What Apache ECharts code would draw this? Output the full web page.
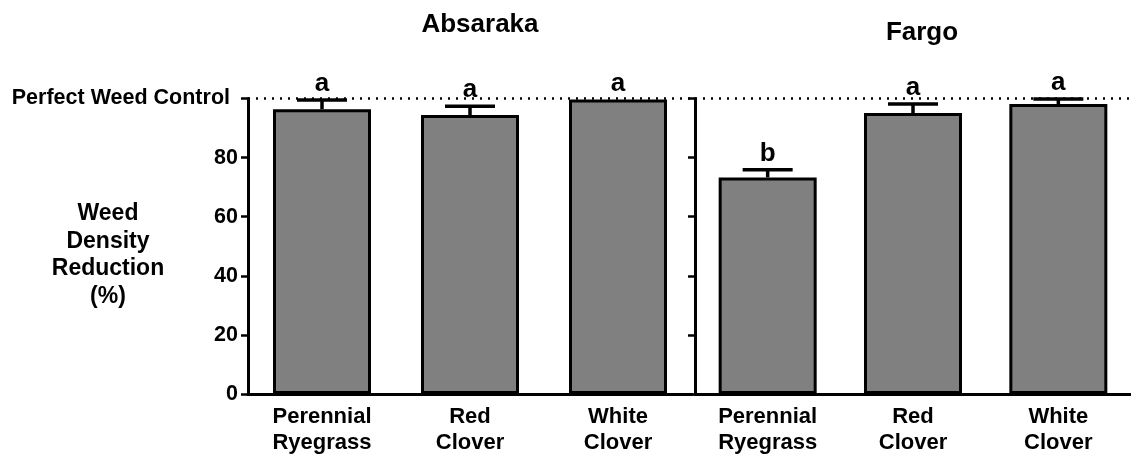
<!DOCTYPE html>
<html>
<head>
<meta charset="utf-8">
<script src="https://cdn.jsdelivr.net/npm/echarts@6/dist/echarts.min.js"></script>
<style>
  html, body { margin: 0; padding: 0; background: #fff; }
  #chart { width: 1131px; height: 457px; }
</style>
</head>
<body>
<div id="chart"></div>
<script>
const categories = ['Perennial\nRyegrass', 'Red\nClover', 'White\nClover']
const perfectLevel = 100

const absarakaMean = [96.4, 94.4, 99.7]
const absarakaErr = [3.1, 3.0, 0]
const absarakaLetters = ['a', 'a', 'a']

const fargoMean = [73.3, 95.1, 98.1]
const fargoErr = [2.6, 3.0, 1.7]
const fargoLetters = ['b', 'a', 'a']

const FONT = "'Liberation Sans', Arial, sans-serif"

const chart = echarts.init(document.getElementById('chart'))

const errorSeries = (idx, mean, err, letters) => ({
  type: 'custom',
  xAxisIndex: idx,
  yAxisIndex: idx,
  z: 5,
  data: mean.map((m, i) => [i, m, err[i]]),
  renderItem: (params, api) => {
    const x = api.value(0)
    const m = api.value(1)
    const e = api.value(2)
    const base = api.coord([x, m])
    const top = api.coord([x, m + e])
    const children = []
    if (e > 0) {
      children.push({
        type: 'line',
        shape: { x1: base[0], y1: base[1], x2: top[0], y2: top[1] },
        style: { stroke: '#000', lineWidth: 3.5 }
      })
      children.push({
        type: 'line',
        shape: { x1: top[0] - 25, y1: top[1], x2: top[0] + 25, y2: top[1] },
        style: { stroke: '#000', lineWidth: 3.5 }
      })
    }
    children.push({
      type: 'text',
      style: {
        text: letters[params.dataIndex],
        x: top[0],
        y: top[1] - 3,
        textAlign: 'center',
        textVerticalAlign: 'bottom',
        font: 'bold 26px ' + FONT,
        fill: '#000'
      }
    })
    return { type: 'group', children }
  }
})

const barSeries = (idx, mean) => ({
  type: 'bar',
  xAxisIndex: idx,
  yAxisIndex: idx,
  barWidth: 98,
  data: mean,
  itemStyle: { color: '#808080', borderColor: '#000', borderWidth: 3 },
  markLine: {
    silent: true,
    symbol: 'none',
    label: { show: false },
    lineStyle: { color: '#000', type: [2, 6], width: 2.5 },
    data: [{ yAxis: perfectLevel }]
  }
})

const xAxis = idx => ({
  type: 'category',
  gridIndex: idx,
  data: categories,
  axisLine: { lineStyle: { color: '#000', width: 3 } },
  axisTick: { alignWithLabel: true, length: 7, lineStyle: { color: '#000', width: 2.5 } },
  axisLabel: { color: '#000', fontWeight: 'bold', fontSize: 22, fontFamily: FONT, lineHeight: 26, margin: 10 }
})

const yAxis = (idx, showLabels) => ({
  type: 'value',
  gridIndex: idx,
  min: 0,
  max: 100,
  interval: 20,
  splitLine: { show: false },
  axisLine: { show: true, lineStyle: { color: '#000', width: 3 } },
  axisTick: { show: true, length: 7, lineStyle: { color: '#000', width: 2.5 } },
  axisLabel: {
    show: showLabels,
    color: '#000',
    fontWeight: 'bold',
    fontSize: 21.5,
    fontFamily: FONT,
    margin: 10,
    formatter: v => (v === perfectLevel ? '{p|Perfect Weed Control}' : String(v)),
    rich: {
      p: { fontWeight: 'bold', fontSize: 21.5, fontFamily: FONT, color: '#000', padding: [0, 8, 0, 0] }
    }
  }
})

const option = {
  animation: false,
  backgroundColor: '#fff',
  title: [
    { text: 'Absaraka', left: 475, top: 7, textAlign: 'center',
      textStyle: { fontSize: 26, fontWeight: 'bold', fontFamily: FONT, color: '#000' } },
    { text: 'Fargo', left: 917, top: 15, textAlign: 'center',
      textStyle: { fontSize: 26, fontWeight: 'bold', fontFamily: FONT, color: '#000' } }
  ],
  grid: [
    { left: 248, top: 98.5, width: 444, height: 295.5 },
    { left: 695, top: 98.5, width: 444, height: 295.5 }
  ],
  xAxis: [xAxis(0), xAxis(1)],
  yAxis: [yAxis(0, true), yAxis(1, false)],
  graphic: [{
    type: 'text',
    x: 108,
    y: 200,
    style: {
      text: 'Weed\nDensity\nReduction\n(%)',
      align: 'center',
      verticalAlign: 'top',
      font: 'bold 23px ' + FONT,
      lineHeight: 27.5,
      fill: '#000'
    }
  }],
  series: [
    barSeries(0, absarakaMean),
    errorSeries(0, absarakaMean, absarakaErr, absarakaLetters),
    barSeries(1, fargoMean),
    errorSeries(1, fargoMean, fargoErr, fargoLetters)
  ]
}

chart.setOption(option)
</script>
</body>
</html>
